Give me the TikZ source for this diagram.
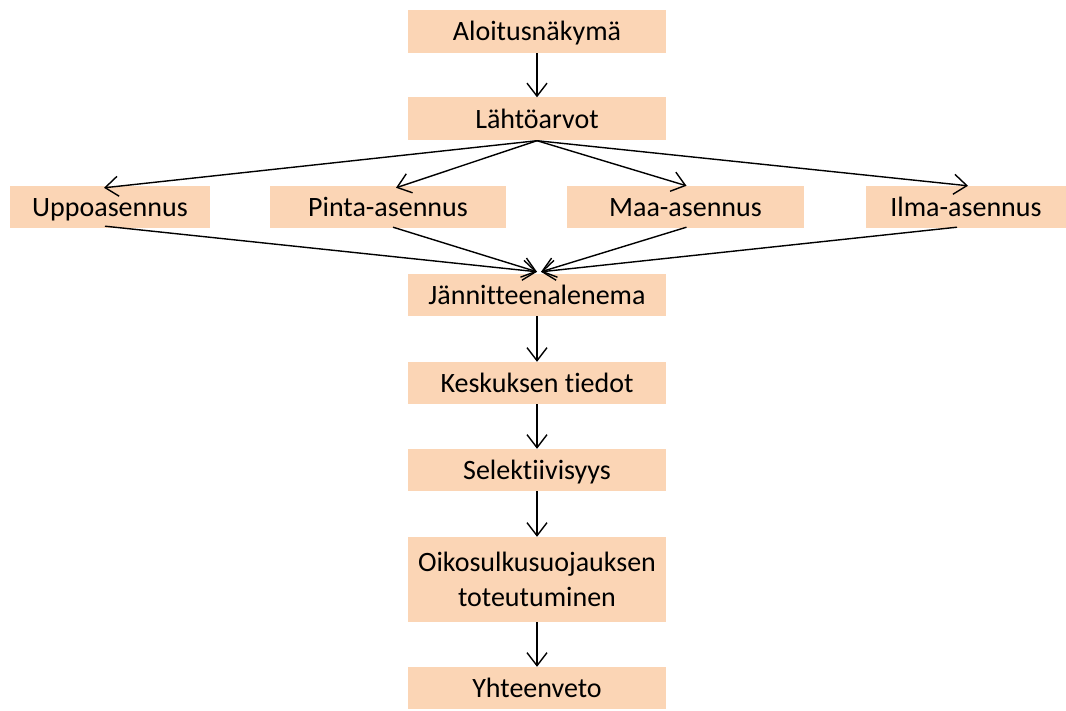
\documentclass[tikz,border=0pt]{standalone}
\usepackage{fontspec}
\setmainfont{Carlito}[Ligatures=NoCommon]
\usetikzlibrary{arrows.meta}
\definecolor{peach}{HTML}{FBD5B5}
\tikzset{
  box/.style={rectangle, fill=peach, draw=none, minimum width=258pt, minimum height=42pt,
    inner sep=0pt, align=center, font=\fontsize{28}{35.5}\selectfont},
  one/.style={text height=21pt, text depth=2pt},
  conn/.style={line width=1.4pt, -{Straight Barb[length=13pt,width=20pt,line width=1.4pt]}}
}
\begin{document}
\begin{tikzpicture}[x=1pt,y=-1pt]
\useasboundingbox (0,0) rectangle (1066,711);
\node[box, one, minimum height=43pt] (a) at (537,31.5) {Aloitusnäkymä};
\node[box, one, minimum height=43pt] (b) at (537,119) {Lähtöarvot};
\node[box, one, minimum width=200pt] (c1) at (110,207) {Uppoasennus};
\node[box, one, minimum width=236pt] (c2) at (388,207) {Pinta-asennus};
\node[box, one, minimum width=237pt] (c3) at (685.5,207) {Maa-asennus};
\node[box, one, minimum width=200pt] (c4) at (966,207) {Ilma-asennus};
\node[box, one] (d) at (537,295) {Jännitteenalenema};
\node[box, one] (e) at (537,383) {Keskuksen tiedot};
\node[box, one] (f) at (537,470) {Selektiivisyys};
\node[box, minimum height=85pt] (g) at (537,579.5) {Oikosulkusuojauksen\\toteutuminen};
\node[box, one] (h) at (537,688) {Yhteenveto};
\draw[conn] (a.south) -- (b.north);
\draw[conn] (b.south) -- ([xshift=-6pt,yshift=-2pt]c1.north);
\draw[conn] (b.south) -- ([xshift=8pt,yshift=-2pt]c2.north);
\draw[conn] (b.south) -- ([xshift=1pt]c3.north);
\draw[conn] (b.south) -- ([xshift=2pt]c4.north);
\draw[conn] ([xshift=-5pt,yshift=2pt]c1.south) -- ([yshift=2pt]d.north);
\draw[conn] ([xshift=5pt,yshift=1pt]c2.south) -- ([yshift=2pt]d.north);
\draw[conn] ([xshift=1pt,yshift=1pt]c3.south) -- ([xshift=4pt,yshift=2pt]d.north);
\draw[conn] ([xshift=-9pt,yshift=1pt]c4.south) -- ([xshift=4pt,yshift=2pt]d.north);
\draw[conn] (d.south) -- (e.north);
\draw[conn] (e.south) -- (f.north);
\draw[conn] (f.south) -- (g.north);
\draw[conn] (g.south) -- (h.north);
\end{tikzpicture}
\end{document}
